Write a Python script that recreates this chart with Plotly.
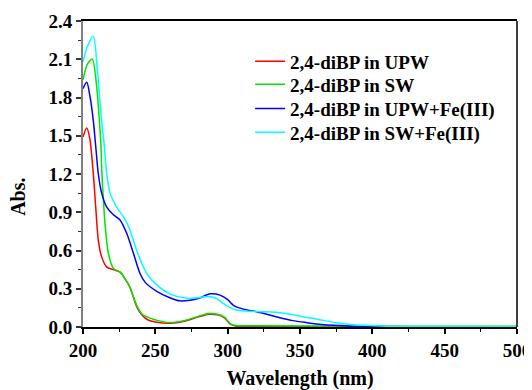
import plotly.graph_objects as go

# Wavelength (nm) and absorbance values
wl_upw = [200, 202.6, 204.8, 207.1, 208.8, 210.6, 212.9, 216.4, 221, 225.6, 229, 232.5, 237.1,
          241, 245, 250, 260, 270, 280, 287, 293, 298, 302, 306, 320, 350, 400, 500]
abs_upw = [1.49, 1.56, 1.47, 1.205, 0.94, 0.68, 0.55, 0.47, 0.45, 0.43, 0.38, 0.31, 0.16,
           0.09, 0.055, 0.04, 0.03, 0.045, 0.08, 0.10, 0.095, 0.07, 0.02, 0.006, 0.002, 0.001, 0, 0]

wl_sw = [200, 203, 206.4, 209.5, 211.3, 212.3, 213, 214, 215.2, 217.5, 221, 225.6, 229, 232.5,
         237.1, 241, 246.3, 252, 260, 270, 280, 287, 293, 298, 302, 306, 320, 400, 500]
abs_sw = [1.94, 2.06, 2.10, 1.88, 1.62, 1.45, 1.22, 1.02, 0.81, 0.58, 0.46, 0.43, 0.38, 0.31,
          0.17, 0.10, 0.07, 0.05, 0.035, 0.05, 0.085, 0.105, 0.10, 0.075, 0.025, 0.012, 0.01, 0.006, 0.005]

wl_upw_fe = [200, 202.6, 204.8, 207.1, 209, 210.6, 212.9, 216.4, 221, 225.6, 230.2, 234.8, 239.4,
             243, 251, 260, 267, 274, 280, 288, 294.7, 300, 304, 308, 315, 320, 336, 345, 355, 365,
             373, 387, 400, 450, 500]
abs_upw_fe = [1.87, 1.92, 1.81, 1.62, 1.39, 1.2, 1.05, 0.94, 0.88, 0.84, 0.735, 0.58, 0.42,
              0.35, 0.28, 0.23, 0.205, 0.21, 0.225, 0.26, 0.25, 0.215, 0.17, 0.15, 0.13, 0.12, 0.073,
              0.05, 0.034, 0.02, 0.013, 0.005, 0.003, 0.001, 0]

wl_sw_fe = [200, 203, 207.1, 209.9, 211.8, 213, 214.5, 216.4, 218.7, 223.3, 227.9, 232.5, 237.1,
            244, 250, 260, 272, 280, 286, 292, 297, 302, 306, 312, 325, 338, 350, 359, 366, 375,
            385, 394, 410, 450, 500]
abs_sw_fe = [2.08, 2.20, 2.28, 2.02, 1.75, 1.60, 1.45, 1.20, 1.05, 0.94, 0.865, 0.76, 0.60,
             0.42, 0.34, 0.26, 0.225, 0.23, 0.24, 0.225, 0.185, 0.15, 0.133, 0.125, 0.12, 0.11,
             0.085, 0.068, 0.052, 0.034, 0.02, 0.013, 0.006, 0.003, 0.002]

series_names = ["2,4-diBP in UPW", "2,4-diBP in SW", "2,4-diBP in UPW+Fe(III)", "2,4-diBP in SW+Fe(III)"]
series_colors = ["#ff0000", "#00e600", "#0000ff", "#00ffff"]
series_x = [wl_upw, wl_sw, wl_upw_fe, wl_sw_fe]
series_y = [abs_upw, abs_sw, abs_upw_fe, abs_sw_fe]

x_ticks = [200, 250, 300, 350, 400, 450, 500]
y_ticks = [0.0, 0.3, 0.6, 0.9, 1.2, 1.5, 1.8, 2.1, 2.4]

FONT = "Liberation Serif"
legend_ids = ["legend", "legend2", "legend3", "legend4"]
legend_tops = [0.93, 0.855, 0.776, 0.698]

fig = go.Figure()
for name, color, xs, ys, lid in zip(series_names, series_colors, series_x, series_y, legend_ids):
    fig.add_trace(go.Scatter(x=xs, y=ys, mode="lines", name=name, legend=lid,
                             line=dict(color=color, width=1.5, shape="spline", smoothing=0.8)))

legend_layout = {}
for lid, top in zip(legend_ids, legend_tops):
    legend_layout[lid] = dict(x=0.385, y=top, xanchor="left", yanchor="top",
                              bgcolor="rgba(0,0,0,0)",
                              font=dict(family=FONT, size=19, weight="bold"))

# body of the page has an 8px margin; size the figure so the plot lands where it should
fig.update_layout(
    width=524, height=382,
    margin=dict(l=75, r=15, t=13, b=63),
    paper_bgcolor="white", plot_bgcolor="white",
    font=dict(family=FONT, size=19, color="black", weight="bold"),
    showlegend=True,
    xaxis=dict(range=[200, 500], tickvals=x_ticks, ticktext=[str(v) for v in x_ticks],
               automargin=False,
               showline=True, linecolor="black", linewidth=1.5, mirror=True,
               ticks="outside", ticklen=5, tickwidth=1.5, tickcolor="black",
               minor=dict(dtick=25, ticks="outside", ticklen=3, tickcolor="black", tickwidth=1),
               showgrid=False, zeroline=False,
               tickfont=dict(family=FONT, size=19, weight="bold"),
               title=dict(text="Wavelength (nm)", font=dict(family=FONT, size=20, weight="bold"),
                          standoff=12)),
    yaxis=dict(range=[0, 2.4], tickvals=y_ticks, ticktext=["%.1f" % v for v in y_ticks],
               automargin=False,
               showline=True, linecolor="#808080", linewidth=2, mirror=False,
               ticks="outside", ticklen=5, tickwidth=1.5, tickcolor="#333333",
               minor=dict(dtick=0.15, ticks="outside", ticklen=3, tickcolor="#333333", tickwidth=1),
               showgrid=False, zeroline=False,
               tickfont=dict(family=FONT, size=19, weight="bold")),
    annotations=[dict(text="Abs.", textangle=-90, xref="paper", yref="paper",
                      x=-0.15, y=0.425, xanchor="center", yanchor="middle", showarrow=False,
                      font=dict(family=FONT, size=20, weight="bold"))],
    **legend_layout,
)
fig.add_shape(type="line", xref="paper", yref="paper", x0=1, x1=1, y0=0, y1=1,
              line=dict(color="black", width=1.5))

fig.write_html("out.html")
